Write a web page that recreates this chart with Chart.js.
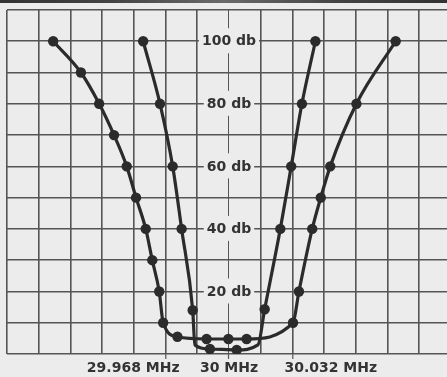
<!DOCTYPE html>
<html>
<head>
<meta charset="utf-8">
<script src="https://cdn.jsdelivr.net/npm/chart.js@4/dist/chart.umd.min.js"></script>
<style>
  html, body { margin: 0; padding: 0; background: #ececec; }
  #wrap { position: relative; width: 447px; height: 377px; overflow: hidden; }
  #edge { position: absolute; left: 0; top: 0; width: 447px; height: 3px;
          background: linear-gradient(90deg, #333 0%, #444 25%, #6a6a6a 50%, #444 75%, #333 100%); }
  canvas { display: block; }
</style>
</head>
<body>
<div id="wrap">
  <canvas id="c" width="447" height="377"></canvas>
  <div id="edge"></div>
</div>
<script>
// Frequency offset from 30 MHz, in kHz; attenuation in db
const outerKHz = [-88.7, -74.7, -65.5, -58.0, -51.6, -46.9, -42.0, -38.7, -35.2, -33.2, -26.0, -11.3, -0.3, 8.9, 32.3, 35.3, 42.0, 46.3, 51.1, 64.3, 84.1];
const outerDb  = [100, 90, 80, 70, 60, 50, 40, 30, 20, 10, 5.5, 4.8, 4.8, 4.8, 10, 20, 40, 50, 60, 80, 100];

const innerKHz = [-43.3, -34.8, -28.4, -23.9, -18.3, -17.2, -9.6, 3.9, 14.6, 18.0, 25.9, 31.4, 36.8, 43.6];
const innerDb  = [100, 80, 60, 40, 14, 2.9, 1.6, 1.3, 2.9, 14.3, 40, 60, 80, 100];
const innerBendIdx = [5, 8]; // bends of the trace without a plotted dot

const xGridKHz = [-112, -96, -80, -64, -48, -32, -16, 0, 16, 32, 48, 64, 80, 96];
const xLabelKHz = [-32, 0, 32];
const xLabelText = ['29.968 MHz', '30 MHz', '30.032 MHz'];

const yLabelDb = [100, 80, 60, 40, 20];
const yLabelText = ['100 db', '80 db', '60 db', '40 db', '20 db'];

const PAPER = '#ececec';
const INK = '#2b2b2b';
const GRID = '#555555';
const TEXT = '#333333';

const toPts = (xs, ys) => xs.map((x, i) => ({ x: x, y: ys[i] }));

const centerLabels = {
  id: 'centerLabels',
  beforeDatasetsDraw(chart) {
    const ctx = chart.ctx;
    const xs = chart.scales.x, ys = chart.scales.y;
    const cx = xs.getPixelForValue(0);
    ctx.save();
    ctx.font = 'bold 14px "DejaVu Sans"';
    ctx.textBaseline = 'middle';
    ctx.textAlign = 'center';
    yLabelDb.forEach((v, i) => {
      const y = ys.getPixelForValue(v);
      const w = ctx.measureText(yLabelText[i]).width + 6;
      ctx.fillStyle = PAPER;
      ctx.fillRect(cx - w / 2, y - 13, w, 25);
      ctx.fillStyle = TEXT;
      ctx.fillText(yLabelText[i], cx, y + 0.5);
    });
    // frequency labels under the axis (side ones pushed outward)
    const aligns = ['right', 'center', 'left'];
    const shifts = [14, 0, -8];
    const ly = ys.getPixelForValue(0) + 14;
    xLabelKHz.forEach((v, i) => {
      ctx.textAlign = aligns[i];
      ctx.fillStyle = TEXT;
      ctx.fillText(xLabelText[i], xs.getPixelForValue(v) + shifts[i], ly);
    });
    ctx.restore();
  }
};

new Chart(document.getElementById('c'), {
  type: 'scatter',
  data: {
    datasets: [
      {
        data: toPts(outerKHz, outerDb),
        showLine: true,
        borderColor: INK,
        borderWidth: 3.2,
        backgroundColor: INK,
        pointRadius: 5.2,
        pointBorderWidth: 0,
        cubicInterpolationMode: 'monotone'
      },
      {
        data: toPts(innerKHz, innerDb),
        showLine: true,
        borderColor: INK,
        borderWidth: 3.2,
        backgroundColor: INK,
        pointRadius: (c) => innerBendIdx.includes(c.dataIndex) ? 0 : 5.2,
        pointBorderWidth: 0,
        cubicInterpolationMode: 'monotone'
      }
    ]
  },
  options: {
    responsive: false,
    animation: false,
    devicePixelRatio: 1,
    layout: { autoPadding: false, padding: { left: 7, top: 10, right: 0, bottom: 0 } },
    plugins: { legend: { display: false }, tooltip: { enabled: false } },
    scales: {
      x: {
        type: 'linear',
        min: -112,
        max: 110,
        afterBuildTicks: (s) => { s.ticks = xGridKHz.map(v => ({ value: v })); },
        afterFit: (s) => { s.height = 23; },
        border: { display: false },
        grid: {
          color: GRID,
          lineWidth: (c) => (c.tick && c.tick.value === 0) ? 1 : 1.6,
          drawTicks: true,
          tickLength: 5,
          tickColor: (c) => (c.tick && xLabelKHz.includes(c.tick.value)) ? GRID : 'rgba(0,0,0,0)',
          tickWidth: 1.2
        },
        ticks: {
          autoSkip: false,
          maxRotation: 0,
          padding: 0,
          callback: () => ''
        }
      },
      y: {
        type: 'linear',
        min: 0,
        max: 110,
        border: { display: false },
        grid: { color: GRID, lineWidth: 1.6, drawTicks: false },
        ticks: { display: false, stepSize: 10 }
      }
    }
  },
  plugins: [centerLabels]
});
</script>
</body>
</html>
